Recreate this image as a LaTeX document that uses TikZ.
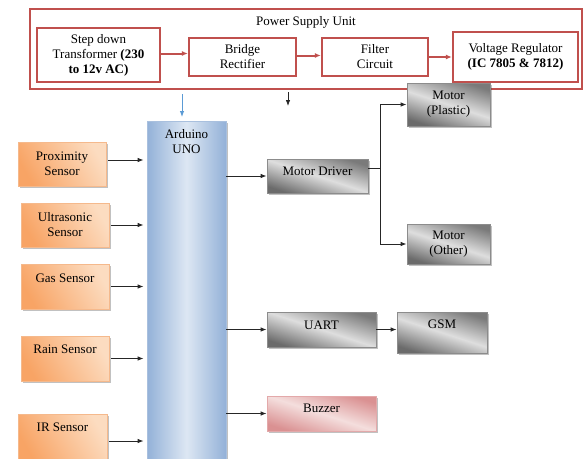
\documentclass[tikz,border=0pt]{standalone}
\usepackage{fontspec}
\setmainfont{Liberation Serif}
\usetikzlibrary{shadows,arrows.meta}
\definecolor{psred}{HTML}{C0504D}
\definecolor{orL}{HTML}{F8A465}
\definecolor{orR}{HTML}{FCDCC0}
\definecolor{orB}{HTML}{F5B98C}
\definecolor{blE}{HTML}{93B1D8}
\definecolor{blM}{HTML}{DDE7F3}
\definecolor{blB}{HTML}{A9C0DE}
\definecolor{pkL}{HTML}{F4DEDD}
\definecolor{pkD}{HTML}{DA9192}
\definecolor{pkB}{HTML}{E3A9AA}
\definecolor{arblue}{HTML}{5B9BD5}
\begin{document}
\begin{tikzpicture}[x=1pt,y=-1pt,font=\fontsize{13}{15}\selectfont,
  base/.style={rectangle,inner sep=0pt,align=center},
  psbox/.style={base,draw=psred,line width=2.4pt,fill=white},
  shad/.style={drop shadow={shadow xshift=2pt,shadow yshift=-2pt,opacity=0.35,fill=black!70}},
  sensor/.style={base,draw=orB,line width=0.8pt,top color=orR,bottom color=orL,shading angle=-60,shad},
  ardbox/.style={base,draw=blB,line width=0.8pt,left color=blE,right color=blE,middle color=blM,shad},
  graybox/.style={base,draw=black!45,line width=0.8pt,top color=black!52,bottom color=black!58,middle color=black!13,shading angle=-18,shad},
  pinkbox/.style={base,draw=pkB,line width=0.8pt,top color=pkD,bottom color=pkD,middle color=pkL,shading angle=-18,shad},
  arr/.style={line width=0.8pt,black!85,-{Latex[length=6pt,width=4.5pt]}},
  redarr/.style={line width=2pt,psred,-{Latex[length=6pt,width=5pt]}},
  bluearr/.style={line width=0.9pt,arblue,-{Latex[length=6pt,width=4.5pt]}}]
\clip (0,0) rectangle (588,458);
% Power supply unit
\node[psbox,minimum width=552pt,minimum height=80pt,text depth=56pt] (psu) at (306,49) {Power Supply Unit};
\node[psbox,minimum width=123pt,minimum height=54pt] (step) at (98.5,55) {Step down\\Transformer \textbf{(230}\\\textbf{to 12v AC)}};
\node[psbox,minimum width=107pt,minimum height=38pt] (bridge) at (242.5,57) {Bridge\\Rectifier};
\node[psbox,minimum width=106pt,minimum height=38pt] (filter) at (375,57) {Filter\\Circuit};
\node[psbox,minimum width=125pt,minimum height=50pt] (reg) at (515.5,57) {Voltage Regulator\\\textbf{(IC 7805 \& 7812)}};
\draw[redarr] ([yshift=1.5pt]step.east) -- ([yshift=1.5pt]step.east -| bridge.west);
\draw[redarr] ([yshift=1.5pt]bridge.east) -- ([yshift=1.5pt]bridge.east -| filter.west);
\draw[redarr] (filter.east) -- (filter.east -| reg.west);
% free arrows below PSU
\coordinate (b1) at (182,94);
\coordinate (b2) at (182,117);
\draw[bluearr] (b1) -- (b2);
\coordinate (k1) at (288,92);
\coordinate (k2) at (288,106);
\draw[arr] (k1) -- (k2);
% Arduino
\node[ardbox,minimum width=79pt,minimum height=349pt,text depth=308pt] (ard) at (186.5,295.5) {Arduino\\UNO};
% Sensors
\node[sensor,minimum width=88pt,minimum height=44pt] (prox) at (62,164) {Proximity\\Sensor};
\node[sensor,minimum width=88pt,minimum height=44pt] (ultra) at (65,225) {Ultrasonic\\Sensor};
\node[sensor,minimum width=88pt,minimum height=45pt,text depth=17pt] (gas) at (65,286.5) {Gas Sensor};
\node[sensor,minimum width=88pt,minimum height=45pt,text depth=19pt] (rain) at (65,358.5) {Rain Sensor};
\node[sensor,minimum width=89pt,minimum height=46pt,text depth=20pt] (ir) at (62.5,437) {IR Sensor};
\draw[arr,shorten <=2pt,shorten >=3pt] ([yshift=4pt]prox.east) -- ([yshift=4pt]prox.east -| ard.west);
\draw[arr,shorten <=2pt,shorten >=3pt] (ultra.east) -- (ultra.east -| ard.west);
\draw[arr,shorten <=2pt,shorten >=3pt] (gas.east) -- (gas.east -| ard.west);
\draw[arr,shorten <=2pt,shorten >=3pt] (rain.east) -- (rain.east -| ard.west);
\draw[arr,shorten <=2pt,shorten >=3pt] ([yshift=-4pt]ir.east) -- ([yshift=-4pt]ir.east -| ard.west);
% Outputs
\node[graybox,minimum width=101pt,minimum height=34pt,text depth=10pt] (md) at (317.5,176) {Motor Driver};
\node[graybox,minimum width=83pt,minimum height=43pt] (mp) at (448.5,104.5) {Motor\\(Plastic)};
\node[graybox,minimum width=83pt,minimum height=40pt] (mo) at (448.5,244) {Motor\\(Other)};
\node[graybox,minimum width=109pt,minimum height=35pt,text depth=9pt] (uart) at (321.5,329.5) {UART};
\node[graybox,minimum width=90pt,minimum height=41pt,text depth=17pt] (gsm) at (442,332.5) {GSM};
\node[pinkbox,minimum width=109pt,minimum height=35pt,text depth=11pt] (buz) at (321.5,413.5) {Buzzer};
\draw[arr] (ard.east |- md.west) -- (md.west);
\draw[arr] (ard.east |- uart.west) -- (uart.west);
\draw[arr] (ard.east |- buz.west) -- (buz.west);
\draw[arr] (uart.east) -- (uart.east -| gsm.west);
\coordinate (br) at (380,168);
\draw[line width=0.8pt,black!85] ([yshift=8pt]md.east) -- (br);
\draw[arr] (br) |- (mp.west);
\draw[arr] (br) |- (mo.west);
\end{tikzpicture}
\end{document}
